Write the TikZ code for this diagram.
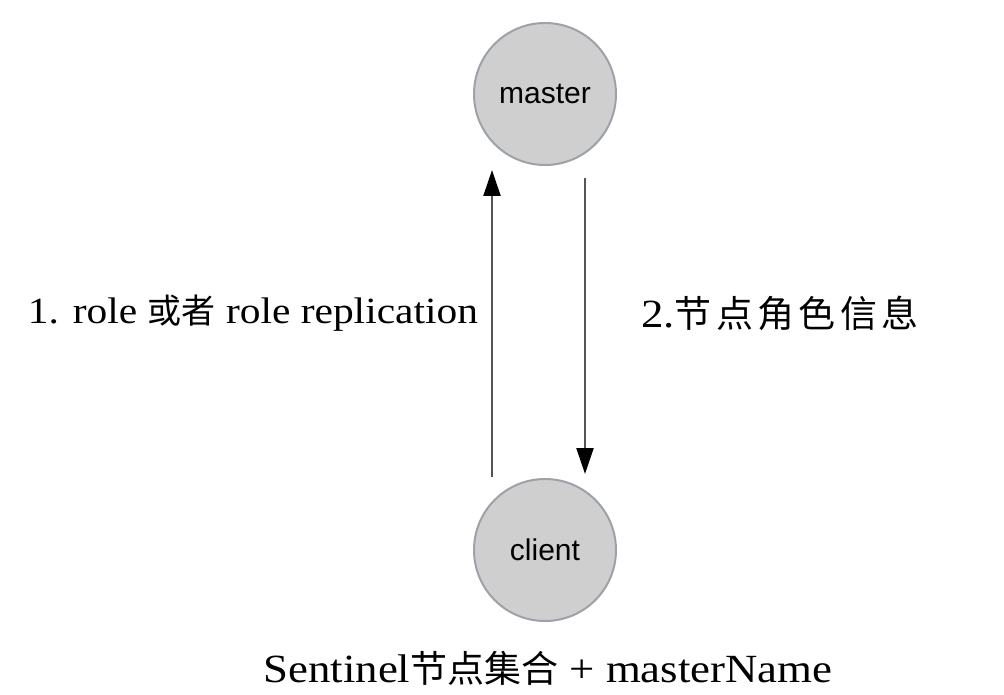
\documentclass[tikz,border=0pt]{standalone}
\usepackage{fontspec}
\setmainfont{Liberation Serif}[FakeStretch=1.12]
\setsansfont{Liberation Sans}
\newfontfamily\cjk{Noto Sans CJK SC}
\usetikzlibrary{arrows.meta}
\definecolor{nodefill}{HTML}{CFCFCF}
\definecolor{nodeedge}{HTML}{9CA2A8}
\definecolor{arrline}{HTML}{555555}
\tikzset{
  roundnode/.style={circle, fill=nodefill, draw=nodeedge, line width=2pt, minimum size=142pt, inner sep=0pt, font=\sffamily\fontsize{30}{34}\selectfont},
  arrowline/.style={draw=arrline, line width=2.2pt, -{Triangle[width=17pt,length=26pt,color=black]}},
  lbl/.style={inner sep=0pt}
}
\begin{document}
\begin{tikzpicture}[x=1pt,y=-1pt]
\useasboundingbox[fill=white] (0,0) rectangle (1004,695);
\node[roundnode] (master) at (545,94) {master};
\node[roundnode] (client) at (545,550) {client};
\coordinate (upS) at (492,477);
\coordinate (upE) at (492,170);
\coordinate (dnS) at (585,178);
\coordinate (dnE) at (585,474);
\draw[arrowline] (upS) -- (upE);
\draw[arrowline] (dnS) -- (dnE);
\node[lbl, font=\fontsize{37}{42}\selectfont] (l1) at (253,313) {1. role {\cjk\fontsize{34}{40}\selectfont 或者} role replication};
\node[lbl, font=\fontsize{40}{46}\selectfont] (l2) at (780,313) {2.{\cjk\fontsize{37}{42}\selectfont\addfontfeature{LetterSpace=12} 节点角色信息}};
\node[lbl, font=\fontsize{40}{46}\selectfont] (l3) at (548,668) {Sentinel{\cjk\fontsize{37}{42}\selectfont 节点集合} + masterName};
\end{tikzpicture}
\end{document}
